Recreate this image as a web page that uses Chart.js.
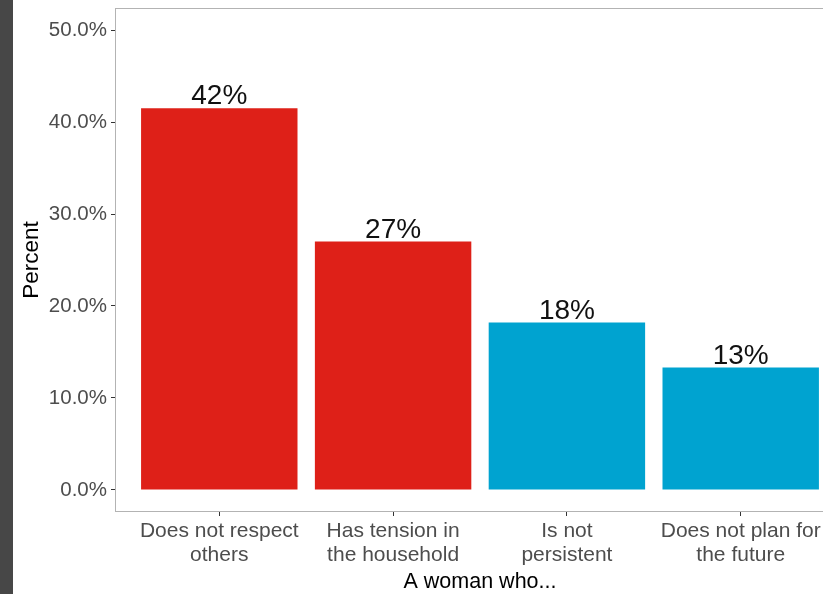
<!DOCTYPE html>
<html lang="en">
<head>
    <meta charset="UTF-8">
    <title>A woman who...</title>
    <script src="https://cdn.jsdelivr.net/npm/chart.js"></script>
    <style>
        body { margin:0; background:#fff; overflow:hidden; width:823px; height:594px; position:relative; }
        #strip { position:absolute; left:0; top:0; width:13px; height:594px; background:#474747; }
        #grafico { position:absolute; left:13px; top:0; }
    </style>
</head>
<body>
    <div id="strip"></div>
    <canvas id="grafico" width="850" height="594"></canvas>

    <script>
        // dados
        const categorias = [
          ["Does not respect", "others"],
          ["Has tension in", "the household"],
          ["Is not", "persistent"],
          ["Does not plan for", "the future"]
        ]
        const valores = [41.5, 27.0, 18.2, 13.3]
        const cores = ["#de2018", "#de2018", "#00a3d0", "#00a3d0"]
        const ticksY = [0, 10, 20, 30, 40, 50]

        const fonte = "'Liberation Sans', Arial, sans-serif"

        // rotulos em cima das barras + moldura do painel
        const rotulos = {
          id: "rotulos",
          beforeDatasetsDraw(chart) {
            const {ctx, chartArea: a} = chart
            ctx.save()
            ctx.strokeStyle = "#b3b3b3"
            ctx.lineWidth = 1
            ctx.strokeRect(a.left + 0.5, a.top + 0.5, a.right - a.left - 1, a.bottom - a.top - 1)
            ctx.restore()
          },
          afterDatasetsDraw(chart) {
            const ctx = chart.ctx
            const meta = chart.getDatasetMeta(0)
            ctx.save()
            ctx.font = "28px " + fonte
            ctx.fillStyle = "#111"
            ctx.textAlign = "center"
            ctx.textBaseline = "alphabetic"
            meta.data.forEach((bar, i) => {
              ctx.fillText(Math.round(valores[i]) + "%", bar.x, bar.y - 4)
            })
            ctx.restore()
          }
        }

        const ctx = document.getElementById("grafico")
        const grafico = new Chart(ctx, {
          type: "bar",
          data: {
            datasets: [{
              data: valores.map((v, i) => ({x: i, y: v})),
              backgroundColor: cores,
              borderWidth: 0,
              barPercentage: 0.9,
              categoryPercentage: 1.0
            }]
          },
          options: {
            responsive: false,
            animation: false,
            layout: { padding: { top: 8, right: 18, left: 0, bottom: 0 } },
            plugins: { legend: { display: false }, tooltip: { enabled: false } },
            scales: {
              x: {
                type: "linear",
                offset: false,
                min: -0.6,
                max: 3.6,
                afterBuildTicks: s => { s.ticks = categorias.map((c, i) => ({value: i})) },
                afterFit: s => { s.height = 82; s.paddingLeft = 0; s.paddingRight = 0 },
                border: { display: false },
                grid: { offset: false, drawOnChartArea: false, drawTicks: true, tickLength: 4, color: "#333" },
                ticks: {
                  callback: v => categorias[v],
                  color: "#4d4d4d",
                  font: { family: fonte, size: 21, lineHeight: 1.15 },
                  padding: 3,
                  maxRotation: 0,
                  autoSkip: false
                },
                title: {
                  display: true,
                  text: "A woman who...",
                  color: "#000",
                  font: { family: fonte, size: 21.5, lineHeight: 1.1 },
                  padding: { top: 0, bottom: 0 }
                }
              },
              y: {
                min: -2.4,
                max: 52.4,
                afterBuildTicks: s => { s.ticks = ticksY.map(v => ({value: v})) },
                afterFit: s => { s.width = 102; s.paddingTop = 0; s.paddingBottom = 0 },
                border: { display: false },
                grid: { drawOnChartArea: false, drawTicks: true, tickLength: 4, color: "#333" },
                ticks: {
                  callback: v => v.toFixed(1) + "%",
                  color: "#4d4d4d",
                  font: { family: fonte, size: 20.5 },
                  padding: 4
                },
                title: {
                  display: true,
                  text: "Percent",
                  color: "#000",
                  font: { family: fonte, size: 22.5 },
                  padding: { top: 5, bottom: 0 }
                }
              }
            }
          },
          plugins: [rotulos]
        })
      </script>
</body>
</html>
